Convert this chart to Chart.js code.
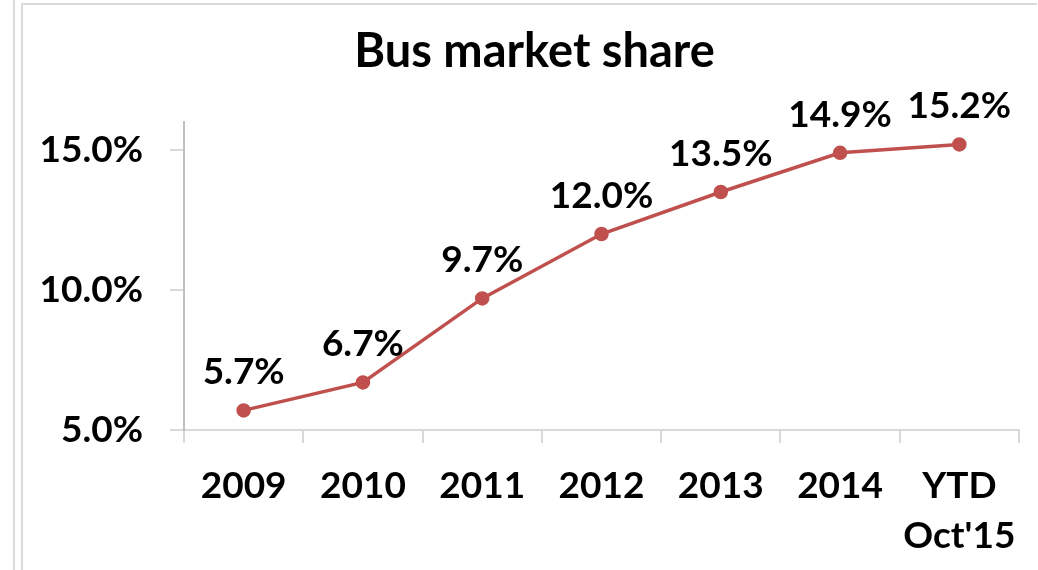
<!DOCTYPE html>
<html>
<head>
<meta charset="utf-8">
<script src="https://cdn.jsdelivr.net/npm/chart.js@4/dist/chart.umd.min.js"></script>
<style>
  html, body { margin: 0; padding: 0; background: #fff; }
  body { width: 1038px; height: 570px; position: relative; overflow: hidden; }
  #outer { position: absolute; left: 13px; top: 0; width: 0; height: 570px; border-left: 2px solid #D9D9D9; }
  #frame { position: absolute; left: 21px; top: 3px; width: 1014px; height: 600px; border-left: 2px solid #D9D9D9; border-top: 2px solid #D9D9D9; }
  #wrap { position: absolute; left: 0; top: 0; width: 1038px; height: 570px; }
</style>
</head>
<body>
<div id="outer"></div>
<div id="frame"></div>
<div id="wrap"><canvas id="c" width="1038" height="570"></canvas></div>
<script>
const categories = ["2009", "2010", "2011", "2012", "2013", "2014", ["YTD", "Oct'15"]];
const busShare = [5.7, 6.7, 9.7, 12.0, 13.5, 14.9, 15.2];
const yTickValues = [5, 10, 15];
const chartTitle = "Bus market share";

const FONT = "Lato, 'Open Sans', sans-serif";

const dataLabels = {
  id: 'dataLabels',
  afterDatasetsDraw(chart) {
    const ctx = chart.ctx;
    const meta = chart.getDatasetMeta(0);
    ctx.save();
    ctx.font = "bold 37px " + FONT;
    ctx.fillStyle = "#000";
    ctx.textAlign = "center";
    ctx.textBaseline = "alphabetic";
    meta.data.forEach((pt, i) => {
      ctx.fillText(busShare[i].toFixed(1) + "%", pt.x, pt.y - 26);
    });
    ctx.restore();
  }
};

const shiftTitle = {
  id: 'shiftTitle',
  afterLayout(chart) {
    if (chart.titleBlock) chart.titleBlock.left = 50;
  }
};

new Chart(document.getElementById('c'), {
  type: 'line',
  data: {
    labels: categories,
    datasets: [{
      data: busShare,
      borderColor: '#C0504D',
      backgroundColor: '#C0504D',
      borderWidth: 3.5,
      pointRadius: 5.5,
      pointHoverRadius: 5.5,
      pointBackgroundColor: '#C0504D',
      pointBorderColor: '#C0504D',
      tension: 0,
      fill: false
    }]
  },
  options: {
    responsive: false,
    animation: false,
    layout: { padding: { left: 0, right: 19, top: 0, bottom: 0 } },
    plugins: {
      legend: { display: false },
      tooltip: { enabled: false },
      title: {
        display: true,
        text: chartTitle,
        color: '#000',
        font: { family: FONT, size: 47, weight: 'bold', lineHeight: 1.2 },
        padding: { top: 24, bottom: 41.6 }
      }
    },
    scales: {
      x: {
        offset: true,
        grid: { offset: true, drawOnChartArea: false, drawTicks: true, tickLength: 13, color: '#D9D9D9', lineWidth: 2 },
        border: { display: true, color: '#D9D9D9', width: 2 },
        ticks: {
          color: '#000',
          padding: 18,
          maxRotation: 0,
          autoSkip: false,
          font: { family: FONT, size: 37, weight: 'bold', lineHeight: 1.35 }
        },
        afterFit(scale) { scale.height = 140; }
      },
      y: {
        min: 5,
        max: 16,
        grid: { drawOnChartArea: false, drawTicks: true, tickLength: 14, color: '#D9D9D9', lineWidth: 2 },
        border: { display: true, color: '#BFBFBF', width: 2 },
        ticks: {
          color: '#000',
          padding: 27,
          font: { family: FONT, size: 37, weight: 'bold' },
          callback: (v) => Number(v).toFixed(1) + '%'
        },
        afterBuildTicks(scale) {
          scale.ticks = yTickValues.map(v => ({ value: v }));
        },
        afterFit(scale) { scale.width = 184; }
      }
    }
  },
  plugins: [dataLabels, shiftTitle]
});
</script>
</body>
</html>
